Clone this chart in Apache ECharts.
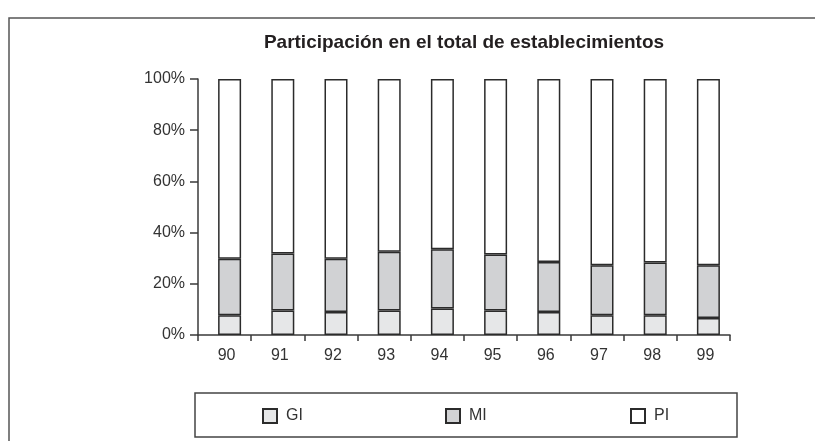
<!DOCTYPE html>
<html>
<head>
<meta charset="utf-8">
<script src="https://cdn.jsdelivr.net/npm/echarts@6/dist/echarts.min.js"></script>
<style>
html,body{margin:0;padding:0;background:#fff;}
#chart{width:815px;height:441px;}
</style>
</head>
<body>
<div id="chart"></div>
<script>
const categories = ['90','91','92','93','94','95','96','97','98','99'];
const giValues = [7.7, 9.6, 9.0, 9.6, 10.4, 9.6, 9.0, 7.7, 7.7, 6.6];
const miValues = [22.1, 22.2, 20.8, 22.9, 23.1, 21.8, 19.5, 19.5, 20.6, 20.6];
const piValues = [70.2, 68.2, 70.2, 67.5, 66.5, 68.6, 71.5, 72.8, 71.7, 72.8];
const yTicks = [0, 20, 40, 60, 80, 100];
const titleText = 'Participación en el total de establecimientos';

const FONT = '"Liberation Sans", Arial, sans-serif';
const EDGE = '#2b2b2b';
const AXIS = '#3a3a3a';

const chart = echarts.init(document.getElementById('chart'), null, {renderer: 'canvas'});

function barSeries(name, data, color) {
  return {
    name: name,
    type: 'bar',
    stack: 'total',
    xAxisIndex: 1,
    yAxisIndex: 1,
    data: data,
    barWidth: 23,
    itemStyle: {color: color, borderColor: EDGE, borderWidth: 1.5},
    emphasis: {disabled: true}
  };
}

function legendItem(name, left) {
  return {
    data: [name],
    left: left,
    top: 408,
    padding: 0,
    itemWidth: 14,
    itemHeight: 14,
    itemGap: 0,
    selectedMode: false,
    icon: 'rect',
    textStyle: {fontFamily: FONT, fontSize: 16, color: '#333', padding: [0, 0, 0, 4]}
  };
}

const yBase = {
  type: 'value',
  min: yTicks[0],
  max: yTicks[yTicks.length - 1],
  interval: 20
};

chart.setOption({
  animation: false,
  backgroundColor: '#fff',
  title: {
    text: titleText,
    left: 459,
    textAlign: 'center',
    top: 28,
    textStyle: {fontFamily: FONT, fontWeight: 'bold', fontSize: 19, color: '#231f20'}
  },
  graphic: [
    {type: 'rect', shape: {x: 9, y: 18, width: 900, height: 500}, style: {fill: 'none', stroke: '#555', lineWidth: 1.5}, silent: true, z: -1},
    {type: 'rect', shape: {x: 195, y: 393, width: 542, height: 44}, style: {fill: 'none', stroke: '#444', lineWidth: 1.5}, silent: true, z: -1}
  ],
  legend: [
    legendItem('GI', 262),
    legendItem('MI', 445),
    legendItem('PI', 630)
  ],
  grid: [
    {left: 198, right: 85, top: 79, bottom: 106, containLabel: false},
    {left: 203, right: 80, top: 79, bottom: 106, containLabel: false}
  ],
  xAxis: [
    {
      type: 'category',
      gridIndex: 0,
      data: categories,
      boundaryGap: true,
      axisLine: {lineStyle: {color: AXIS, width: 1.5}},
      axisTick: {show: true, alignWithLabel: false, length: 6, lineStyle: {color: AXIS, width: 1.5}},
      axisLabel: {fontFamily: FONT, fontSize: 16, color: '#333', margin: 13, padding: [0, 0, 0, 4]}
    },
    {
      type: 'category',
      gridIndex: 1,
      data: categories,
      boundaryGap: true,
      show: false
    }
  ],
  yAxis: [
    Object.assign({}, yBase, {
      gridIndex: 0,
      axisLine: {show: true, lineStyle: {color: AXIS, width: 1.5}},
      axisTick: {show: true, length: 8, lineStyle: {color: AXIS, width: 1.5}},
      splitLine: {show: false},
      axisLabel: {fontFamily: FONT, fontSize: 16, color: '#333', margin: 13, formatter: '{value}%'}
    }),
    Object.assign({}, yBase, {gridIndex: 1, show: false, splitLine: {show: false}})
  ],
  series: [
    barSeries('GI', giValues, '#e6e7e8'),
    barSeries('MI', miValues, '#d1d2d4'),
    barSeries('PI', piValues, '#ffffff')
  ]
});
</script>
</body>
</html>
